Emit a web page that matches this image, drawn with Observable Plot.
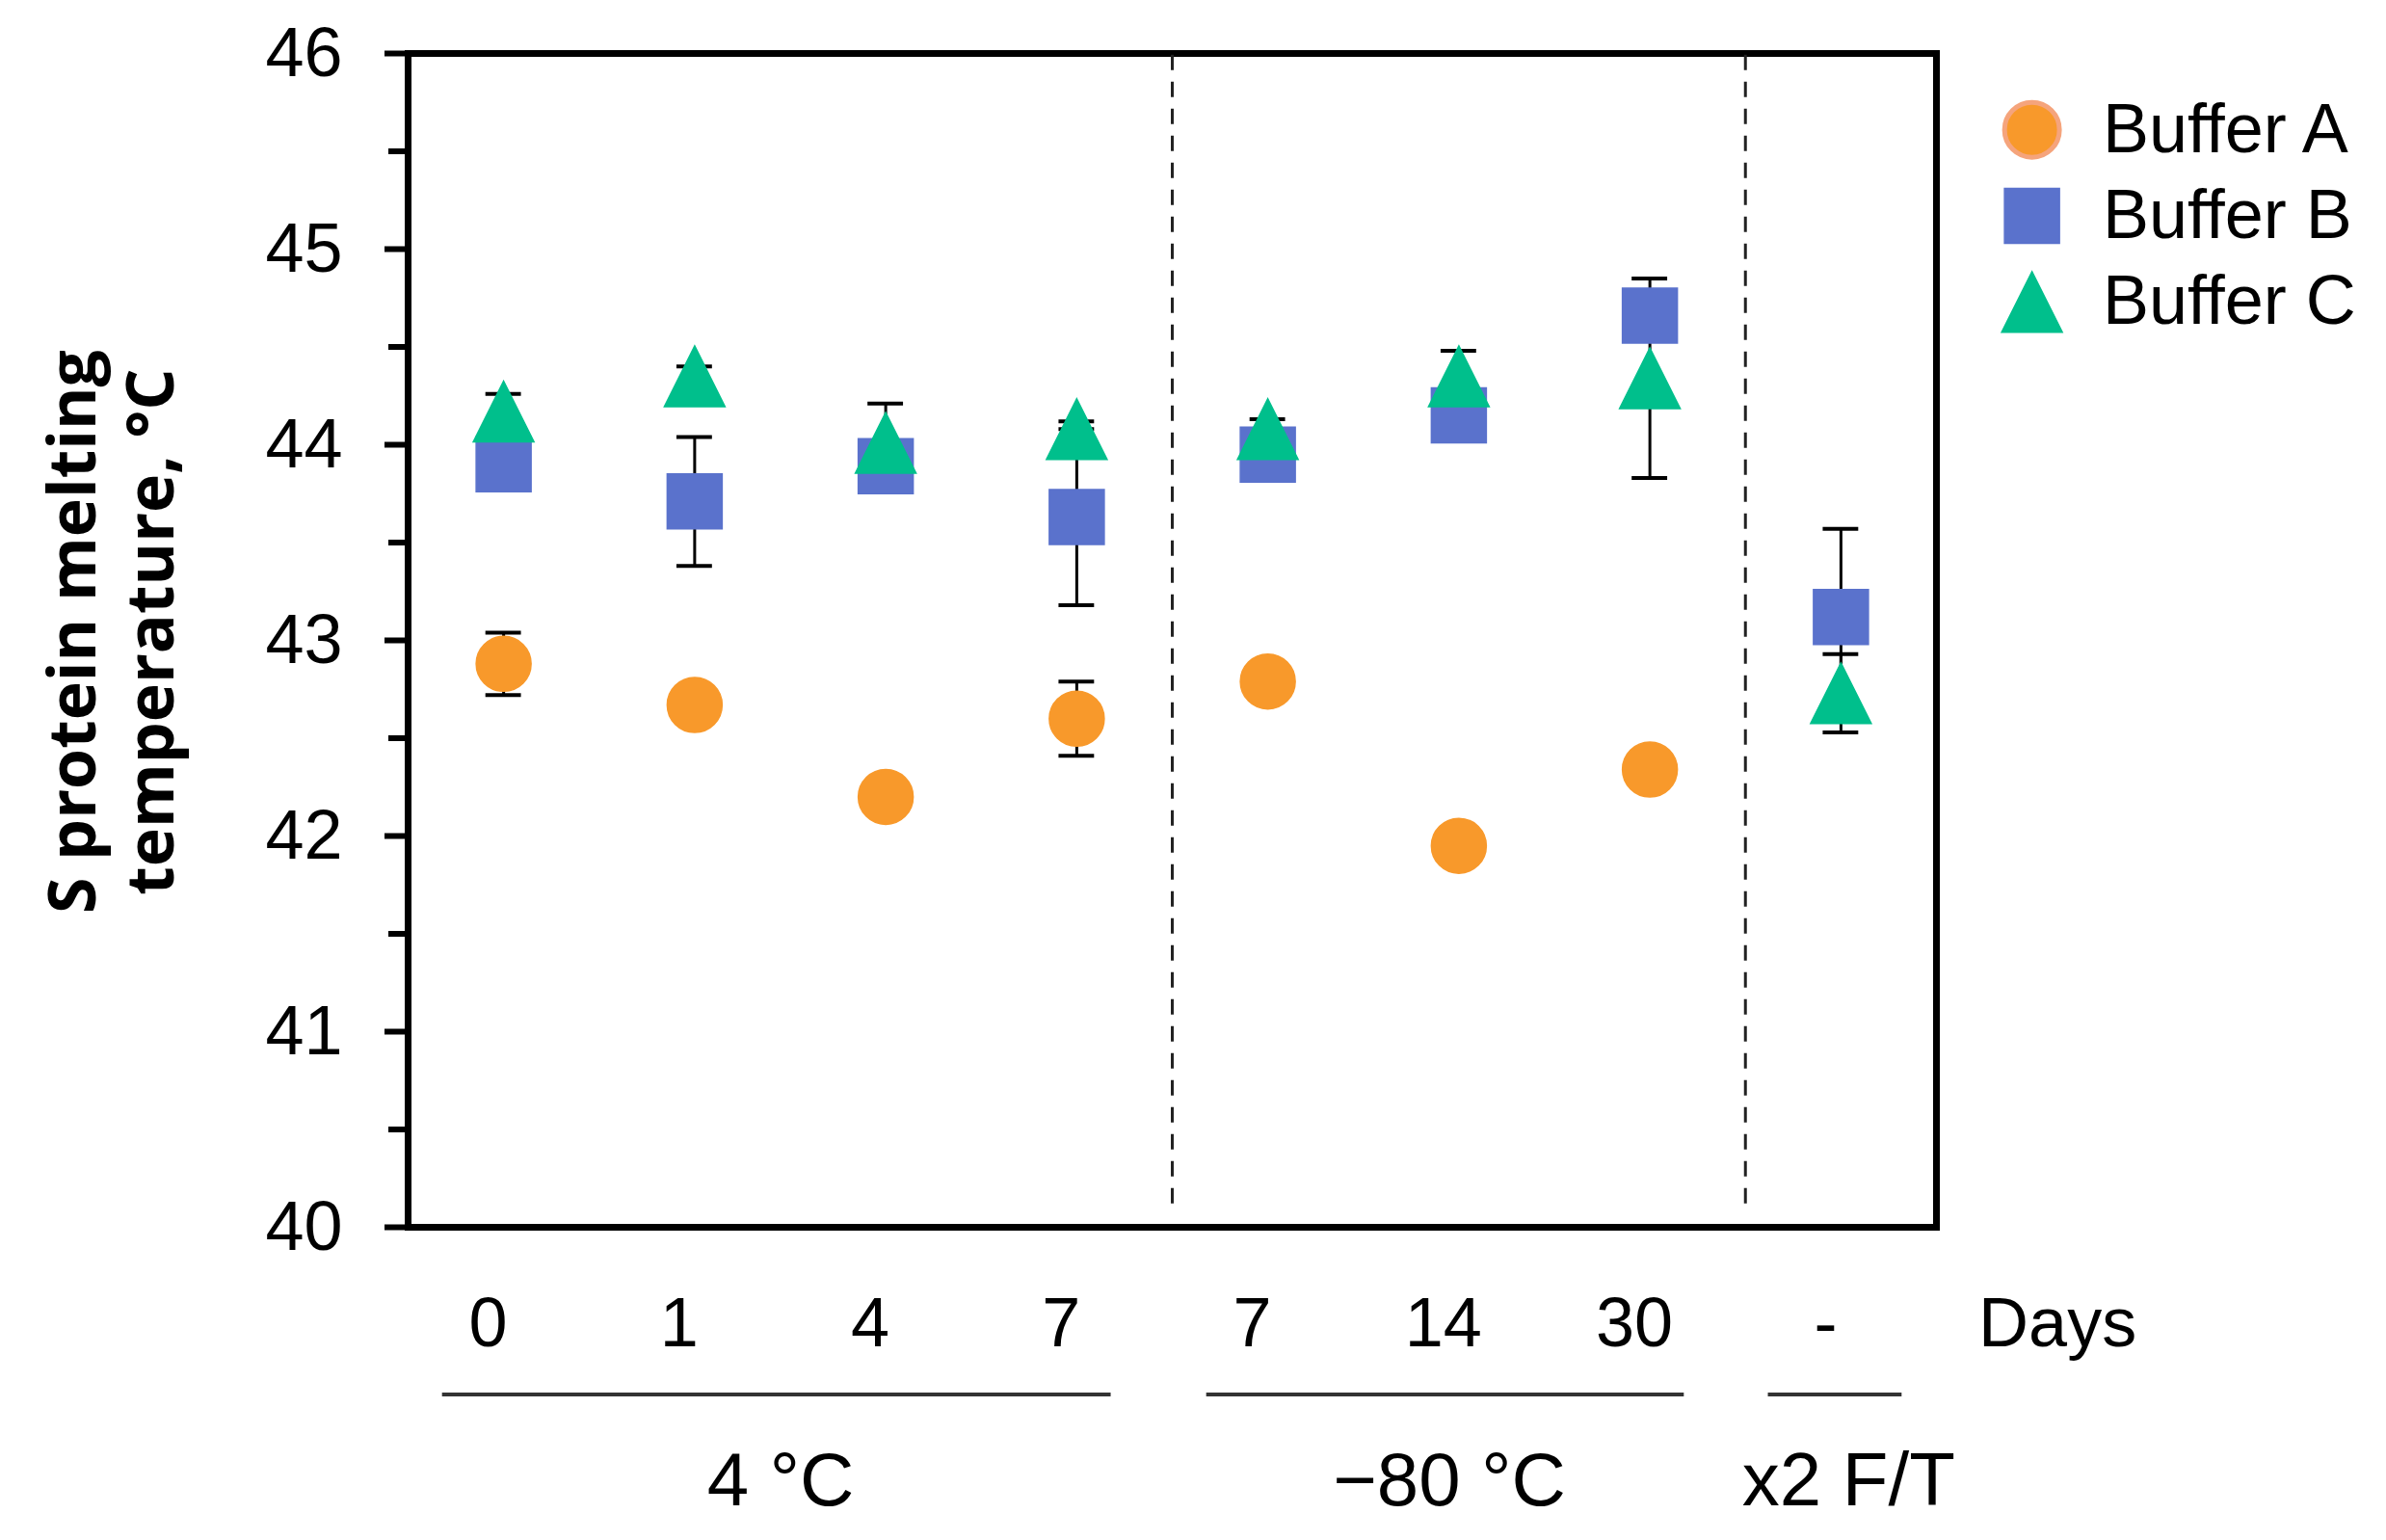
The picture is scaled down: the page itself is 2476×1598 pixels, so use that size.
<!DOCTYPE html>
<html>
<head>
<meta charset="utf-8">
<script src="https://cdn.jsdelivr.net/npm/d3@7"></script>
<script src="https://cdn.jsdelivr.net/npm/@observablehq/plot@0.6"></script>
<style>
  html, body { margin: 0; padding: 0; background: #fff; }
  #chart svg { display: block; }
</style>
</head>
<body>
<div id="chart"></div>
<script>
// ---- data ----
const categories = ["0", "1", "4", "7", "7", "14", "30", "-"];
const groups = ["4 °C", "4 °C", "4 °C", "4 °C", "−80 °C", "−80 °C", "−80 °C", "x2 F/T"];
const seriesNames = ["Buffer A", "Buffer B", "Buffer C"];
const bufferA = [42.88, 42.67, 42.20, 42.60, 42.79, 41.95, 42.34, null];
const errA    = [0.16, 0.05, 0.05, 0.19, 0.05, 0.05, 0.05, null];
const bufferB = [43.90, 43.71, 43.89, 43.63, 43.95, 44.15, 44.66, 43.12];
const errB    = [0.06, 0.33, 0.08, 0.45, 0.06, 0.06, 0.06, 0.45];
const bufferC = [44.17, 44.35, 44.01, 44.08, 44.08, 44.35, 44.34, 42.73];
const errC    = [0.09, 0.05, 0.20, 0.04, 0.05, 0.13, 0.51, 0.20];
const yTicks = [40, 41, 42, 43, 44, 45, 46];
const yMinorTicks = [40.5, 41.5, 42.5, 43.5, 44.5, 45.5];
const unitLabel = "Days";
const yTitle = "S protein melting\ntemperature, °C";

// ---- styles ----
const colors = {"Buffer A": "#F8992B", "Buffer B": "#5A72CC", "Buffer C": "#00BF8C"};
const square = {draw(ctx, size) { const r = Math.sqrt(size / Math.PI); ctx.rect(-r, -r, 2 * r, 2 * r); }};
const triangle = {draw(ctx, size) { const r = Math.sqrt(size / Math.PI); ctx.moveTo(0, -r); ctx.lineTo(r, r); ctx.lineTo(-r, r); ctx.closePath(); }};
const symbols = {"Buffer A": "circle", "Buffer B": square, "Buffer C": triangle};
const radii = {"Buffer A": 28.5, "Buffer B": 28.5, "Buffer C": 31.5};
const legendStroke = {"Buffer A": "#F5A47C", "Buffer B": "#5A72CC", "Buffer C": "#00BF8C"};
const legendStrokeWidth = {"Buffer A": 5, "Buffer B": 1.5, "Buffer C": 1.5};
const regular = "'Liberation Sans', Arial, sans-serif";

// ---- build rows ----
const vals = [bufferA, bufferB, bufferC];
const errs = [errA, errB, errC];
const rows = [];
seriesNames.forEach((s, k) => {
  vals[k].forEach((v, i) => { if (v != null) rows.push({series: s, i, v, e: errs[k][i]}); });
});

// group spans
const spans = [];
groups.forEach((g, i) => {
  const last = spans[spans.length - 1];
  if (last && last.g === g) last.end = i; else spans.push({g, start: i, end: i});
});
const boundaries = spans.slice(1).map(s => s.start - 0.5);

const cap = 0.093;
const marks = [
  Plot.frame({stroke: "black", strokeWidth: 7}),
  Plot.ruleX(boundaries, {y1: 40.12, y2: 46, stroke: "#222", strokeWidth: 3, strokeDasharray: "16,12"}),
  // y axis
  Plot.axisY(yTicks, {anchor: "left", tickSize: 24, tickPadding: 44, strokeWidth: 6, fontSize: 72, fontFamily: regular, tickFormat: d => String(d), label: null, fill: "black"}),
  Plot.axisY(yMinorTicks, {anchor: "left", tickSize: 20, strokeWidth: 6, tickFormat: () => "", label: null}),
  // error bars
  Plot.ruleX(rows, {x: "i", y1: d => d.v - d.e, y2: d => d.v + d.e, stroke: "black", strokeWidth: 3}),
  Plot.ruleY(rows, {y: d => d.v + d.e, x1: d => d.i - cap, x2: d => d.i + cap, stroke: "black", strokeWidth: 4}),
  Plot.ruleY(rows, {y: d => d.v - d.e, x1: d => d.i - cap, x2: d => d.i + cap, stroke: "black", strokeWidth: 4}),
];
// markers, series by series
seriesNames.forEach(s => {
  marks.push(Plot.dot(rows.filter(d => d.series === s), {x: "i", y: "v", r: radii[s], symbol: symbols[s], fill: colors[s], stroke: colors[s], strokeWidth: 1.5}));
});
// category labels
marks.push(
  Plot.text(categories, {x: (d, i) => i, frameAnchor: "bottom", dy: 123, dx: -16, fontSize: 72, fontFamily: regular, fill: "black"}),
  Plot.text([unitLabel], {x: () => 7.72, frameAnchor: "bottom", dy: 123, textAnchor: "start", fontSize: 72, fontFamily: regular, fill: "black"}),
  Plot.ruleY(spans, {y: () => 39.145, x1: d => d.start - (d.end > d.start ? 0.32 : 0.38), x2: d => d.end + (d.end > d.start ? 0.18 : 0.32), stroke: "#333", strokeWidth: 4}),
  Plot.text(spans, {x: d => (d.start + d.end) / 2 - (d.end > d.start ? 0.05 : -0.04), frameAnchor: "bottom", dy: 288, text: "g", fontSize: 78, fontFamily: regular, fill: "black"}),
  Plot.text([yTitle], {frameAnchor: "left", dx: -310, dy: -9, rotate: -90, fontSize: 68, fontWeight: 700, fontFamily: "'Open Sans', sans-serif", lineHeight: 1.2, textAnchor: "middle", fill: "black"})
);
// legend
seriesNames.forEach((s, k) => {
  marks.push(
    Plot.dot([s], {x: () => 8.0, y: () => 45.61 - k * 0.44, r: radii[s], symbol: symbols[s], fill: colors[s], stroke: legendStroke[s], strokeWidth: legendStrokeWidth[s]}),
    Plot.text([s], {x: () => 8.37, y: () => 45.61 - k * 0.44, textAnchor: "start", fontSize: 72, fontFamily: regular, fill: "black"})
  );
});

const chart = Plot.plot({
  width: 2476,
  height: 1598,
  marginLeft: 423,
  marginRight: 467,
  marginTop: 55,
  marginBottom: 325,
  style: {background: "white", color: "black", overflow: "visible"},
  x: {domain: [-0.5, 7.5], axis: null},
  y: {domain: [40, 46], axis: null},
  marks
});
document.getElementById("chart").appendChild(chart);
</script>
</body>
</html>
